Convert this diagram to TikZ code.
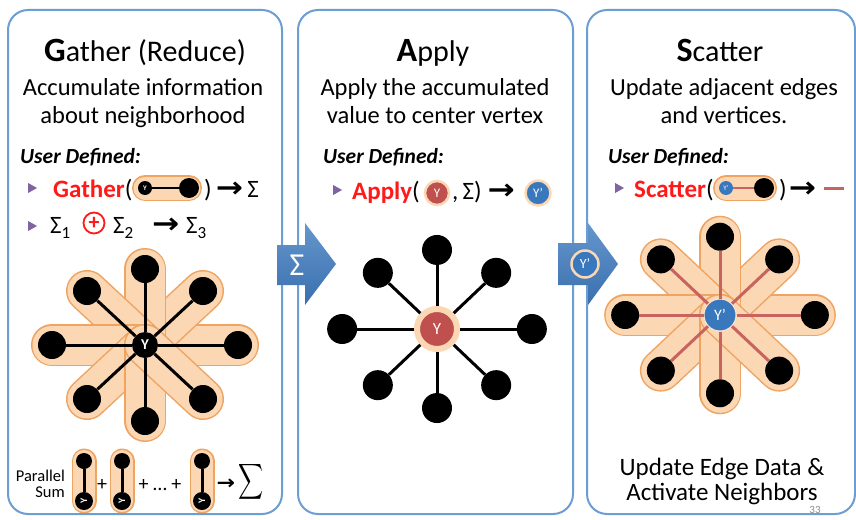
\documentclass[tikz,border=0pt]{standalone}
\usepackage{fontspec}
\usepackage{exscale}
\setmainfont{Carlito}
\newfontfamily\arrowfont{DejaVu Sans}
\usetikzlibrary{positioning,backgrounds,shapes.geometric}

\definecolor{panelblue}{HTML}{6D9ED3}
\definecolor{arrowblue}{HTML}{4A84C4}
\definecolor{arrowdark}{HTML}{3A6FAE}
\definecolor{capfill}{HTML}{FBD7B4}
\definecolor{capline}{HTML}{EFA462}
\definecolor{bulletpurple}{HTML}{8064A2}
\definecolor{fnred}{HTML}{FF1A1A}
\definecolor{vred}{HTML}{C0504D}
\definecolor{vblue}{HTML}{3A78BE}
\definecolor{edgered}{HTML}{C8645F}

\newcommand{\fs}[1]{\fontsize{#1}{#1}\selectfont}
\newcommand{\lowsub}[1]{\raisebox{-5pt}{\fs{17}#1}}
\newcommand{\toarrow}{{\arrowfont\bfseries\scalebox{1.3}[1.15]{→}}}
% offsets of the eight neighbours round a centre vertex
\def\spokes{93/0,58/-54,0/-76,-58/-54,-93/0,-58/54,0/76,58/54}

\begin{document}
\begin{tikzpicture}[
  x=1pt, y=-1pt,
  panel/.style={draw=panelblue, line width=2pt, rounded corners=20pt},
  title/.style={anchor=base, font=\fs{30}, inner sep=0pt},
  sub/.style={anchor=base, font=\fs{24.5}, inner sep=0pt},
  userdef/.style={anchor=base west, font=\fs{21.5}\bfseries\itshape, inner sep=0pt},
  fn/.style={anchor=base west, font=\fs{25}\bfseries, text=fnred, inner sep=0pt},
  txt/.style={anchor=base west, font=\fs{25}, inner sep=0pt},
  bullet/.style={isosceles triangle, isosceles triangle stretches, fill=bulletpurple,
    inner sep=0pt, minimum height=9pt, minimum width=10pt},
  dot/.style={circle, fill=black, inner sep=0pt, minimum size=28pt},
  vtx/.style={circle, inner sep=0pt, text=white},
  spoke/.style={line width=3pt},
  capedge/.style={line width=42pt, capline, line cap=round},
  capbody/.style={line width=39pt, capfill, line cap=round},
  blockarrow/.style={top color=arrowblue!85!white, bottom color=arrowdark}
]
\begin{pgfonlayer}{background}
  \fill[white] (0,0) rectangle (856,519);
\end{pgfonlayer}
\useasboundingbox (0,0) rectangle (856,519);

% ── The three panels ──────────────────────────────────────────────────────
\draw[panel] (8,10) rectangle (282,514);
\draw[panel] (298,10) rectangle (573,514);
\draw[panel] (587,10) rectangle (855,514);

% ── Gather (Reduce) ───────────────────────────────────────────────────────
\node[title] (g-title) at (145,62) {{\fs{34}\bfseries G}ather (Reduce)};
\node[sub] (g-sub1) at (143,95) {Accumulate information};
\node[sub] (g-sub2) at (143,123) {about neighborhood};
\node[userdef] (g-ud) at (20,163) {User Defined:};

\node[bullet] (g-b1) at (31,188) {};
\node[fn] (g-fn) at (53,197) {Gather\textcolor{black}{\mdseries(}};
\node[dot, minimum size=14pt] (gl-y) at (145,188) {};
\node[vtx, font=\fs{7}\bfseries] at (gl-y) {Y};
\node[dot, minimum size=20pt] (gl-n) at (189,188) {};
\begin{pgfonlayer}{background}
  \draw[line width=26pt, capline, line cap=round] (gl-y.center) -- (gl-n.center);
  \draw[line width=23pt, capfill, line cap=round] (gl-y.center) -- (gl-n.center);
\end{pgfonlayer}
\draw[line width=2.5pt] (gl-y) -- (gl-n);
\node[txt] (g-res) at (204,197) {)\,\toarrow\,Σ};

\node[bullet] (g-b2) at (31,226) {};
\node[txt] (g-s1) at (50,233) {Σ\lowsub{1}};
\node[circle, draw=fnred, line width=1.8pt, minimum size=21pt, inner sep=0pt,
  text=fnred, font=\fs{22}\bfseries] (g-plus) at (94,223) {+};
\node[txt] (g-s2) at (113,233) {Σ\lowsub{2}};
\node[txt] (g-arr) at (152,233) {\toarrow};
\node[txt] (g-s3) at (186,233) {Σ\lowsub{3}};

% star of neighbourhood edges
\node[dot, minimum size=26pt, font=\fs{15}\bfseries, text=white] (g-c) at (145,345) {Y};
\foreach \dx/\dy [count=\i] in \spokes {
  \node[dot] (g-n\i) at ({145+\dx},{345+\dy}) {};
  \begin{pgfonlayer}{background}
    \draw[capedge] (g-c.center) -- (g-n\i.center);
    \draw[capbody] (g-c.center) -- (g-n\i.center);
  \end{pgfonlayer}
  \draw[spoke] (g-c) -- (g-n\i);
}

% parallel sum
\node[anchor=east, align=right, font=\fs{16.5}, inner sep=0pt] (psum) at (65,484)
  {Parallel\\[0pt]Sum};
\foreach \px [count=\i] in {84,122,202} {
  \node[dot, minimum size=16pt] (p\i-t) at (\px,461) {};
  \node[dot, minimum size=18pt] (p\i-y) at (\px,501) {};
  \node[vtx, rotate=90, font=\fs{10}\bfseries] at (p\i-y) {Y};
  \begin{pgfonlayer}{background}
    \draw[line width=25pt, capline, line cap=round] (p\i-t.center) -- (p\i-y.center);
    \draw[line width=22pt, capfill, line cap=round] (p\i-t.center) -- (p\i-y.center);
  \end{pgfonlayer}
  \draw[spoke] (p\i-t) -- (p\i-y);
}
\node[font=\fs{20}] (plus1) at (102,485) {+};
\node[font=\fs{20}] (plus2) at (160,485) {+ … +};
\node[font=\fs{17}] (parr) at (226,484) {\toarrow};
\node[font=\fs{38}] (bigsum) at (251,482) {\scalebox{0.7}[1]{$\displaystyle\sum$}};

% ── Apply ─────────────────────────────────────────────────────────────────
\node[title] (a-title) at (433,62) {{\fs{34}\bfseries A}pply};
\node[sub] (a-sub1) at (435,95) {Apply the accumulated};
\node[sub] (a-sub2) at (435,123) {value to center vertex};
\node[userdef] (a-ud) at (323,163) {User Defined:};

\node[bullet] (a-b1) at (336,190) {};
\node[fn] (a-fn) at (352,199) {Apply\textcolor{black}{\mdseries(}};
\node[vtx, fill=vred, draw=capfill, line width=2.5pt, minimum size=24pt,
  font=\fs{13}] (a-old) at (437,193) {Y};
\node[txt] (a-res) at (452,199) {,\,Σ)\hspace{6pt}\toarrow};
\node[vtx, fill=vblue, draw=capfill, line width=2.5pt, minimum size=25pt,
  font=\fs{13}] (a-new) at (538,193) {Y’};

\node[vtx, fill=vred, draw=capfill, line width=6pt, minimum size=40pt,
  font=\fs{17}] (a-c) at (437,329) {Y};
\foreach \dx/\dy [count=\i] in \spokes {
  \node[dot, minimum size=30pt] (a-n\i) at ({437+1.02*\dx},{329+1.04*\dy}) {};
  \draw[spoke] (a-c) -- (a-n\i);
}

% ── Scatter ───────────────────────────────────────────────────────────────
\node[title] (s-title) at (720,62) {{\fs{34}\bfseries S}catter};
\node[sub] (s-sub1) at (724,95) {Update adjacent edges};
\node[sub] (s-sub2) at (724,123) {and vertices.};
\node[userdef] (s-ud) at (608,163) {User Defined:};

\node[bullet] (s-b1) at (618,188) {};
\node[fn] (s-fn) at (634,197) {Scatter\textcolor{black}{\mdseries(}};
\node[vtx, fill=vblue, minimum size=14pt, font=\fs{7}] (sl-y) at (726,188) {Y’};
\node[dot, minimum size=20pt] (sl-n) at (764,188) {};
\begin{pgfonlayer}{background}
  \draw[line width=26pt, capline, line cap=round] (sl-y.center) -- (sl-n.center);
  \draw[line width=23pt, capfill, line cap=round] (sl-y.center) -- (sl-n.center);
\end{pgfonlayer}
\draw[line width=2.5pt, edgered] (sl-y) -- (sl-n);
\node[txt] (s-res) at (779,197) {)\hspace{2pt}\toarrow};
\coordinate (s-e1) at (824,188);
\coordinate (s-e2) at (844,188);
\draw[line width=3pt, edgered] (s-e1) -- (s-e2);

\node[vtx, fill=vblue, draw=capfill!60!white, line width=1pt, minimum size=32pt,
  font=\fs{16}] (s-c) at (720,315) {Y’};
\foreach \dx/\dy [count=\i] in \spokes {
  \node[dot] (s-n\i) at ({720+1.02*\dx},{315+1.03*\dy}) {};
  \begin{pgfonlayer}{background}
    \draw[capedge] (s-c.center) -- (s-n\i.center);
    \draw[capbody] (s-c.center) -- (s-n\i.center);
  \end{pgfonlayer}
  \draw[spoke, edgered] (s-c) -- (s-n\i);
}

\node[sub, font=\fs{25}] (s-note1) at (722,475) {Update Edge Data \&};
\node[sub, font=\fs{25}] (s-note2) at (722,500) {Activate Neighbors};
\node[font=\fs{11}, text=black!45, inner sep=0pt] (pg) at (815,510) {33};

% ── Block arrows between the phases ───────────────────────────────────────
\shade[blockarrow] (277,245) -- (305,245) -- (305,223) -- (336,264)
  -- (305,305) -- (305,285) -- (277,285) -- cycle;
\node[font=\fs{32}, text=white] (sum-tok) at (297,265) {Σ};
\shade[blockarrow] (558,243) -- (588,243) -- (588,223) -- (618,264)
  -- (588,305) -- (588,285) -- (558,285) -- cycle;
\node[vtx, fill=vblue, draw=capfill, line width=2.5pt, minimum size=27pt,
  font=\fs{14}] (new-tok) at (585,264) {Y’};

\end{tikzpicture}
\end{document}
